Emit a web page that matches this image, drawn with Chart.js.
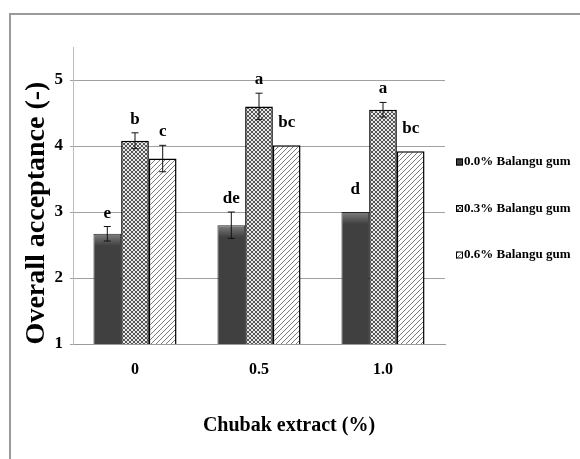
<!DOCTYPE html>
<html>
<head>
<meta charset="utf-8">
<script src="https://cdn.jsdelivr.net/npm/chart.js@4"></script>
<style>
html, body { margin: 0; padding: 0; background: #fff; }
#frame { position: absolute; left: 9px; top: 13px; width: 620px; height: 500px;
  border-top: 2px solid #9a9a9a; border-left: 2px solid #9a9a9a; }
#wrap { position: absolute; left: 0; top: 0; width: 580px; height: 459px; }
</style>
</head>
<body>
<div id="frame"></div>
<div id="wrap"><canvas id="myChart"></canvas></div>
<script>
// data
const categories = ["0", "0.5", "1.0"];
const seriesNames = ["0.0% Balangu gum", "0.3% Balangu gum", "0.6% Balangu gum"];
const gum00 = [2.67, 2.80, 3.00];
const gum03 = [4.08, 4.60, 4.55];
const gum06 = [3.81, 4.01, 3.92];
const gum00Err = [0.11, 0.20, 0];
const gum03Err = [0.12, 0.20, 0.11];
const gum06Err = [0.20, 0, 0];
const gum00Letters = ["e", "de", "d"];
const gum03Letters = ["b", "a", "a"];
const gum06Letters = ["c", "bc", "bc"];
const yTicks = [1, 2, 3, 4, 5];

const errs = [gum00Err, gum03Err, gum06Err];
const letters = [gum00Letters, gum03Letters, gum06Letters];
const serif = "'Liberation Serif', 'Times New Roman', serif";
const nb = "\u00a0";

function makePattern(size, draw) {
    const cv = document.createElement('canvas');
    cv.width = size; cv.height = size;
    const g = cv.getContext('2d');
    g.fillStyle = '#fff';
    g.fillRect(0, 0, size, size);
    draw(g);
    return document.getElementById('myChart').getContext('2d').createPattern(cv, 'repeat');
}

// fine cross hatch (0.3%)
const crossFill = makePattern(4, g => {
    g.fillStyle = '#e8e8e8';
    g.fillRect(0, 0, 4, 4);
    g.fillStyle = '#555';
    [[0,0],[1,1],[2,2],[3,3],[3,0],[2,1],[1,2],[0,3]].forEach(p => g.fillRect(p[0], p[1], 1, 1));
});
// diagonal hatch (0.6%)
const diagFill = makePattern(5, g => {
    g.strokeStyle = '#7a7a7a';
    g.lineWidth = 1;
    g.beginPath();
    g.moveTo(0, 5); g.lineTo(5, 0);
    g.moveTo(-2.5, 2.5); g.lineTo(2.5, -2.5);
    g.moveTo(2.5, 7.5); g.lineTo(7.5, 2.5);
    g.stroke();
});

function darkFill(ctx) {
    const chart = ctx.chart;
    if (!chart.chartArea || ctx.raw == null) return '#404040';
    const top = chart.scales.y.getPixelForValue(ctx.raw);
    const gr = chart.ctx.createLinearGradient(0, top, 0, top + 12);
    gr.addColorStop(0, '#808080');
    gr.addColorStop(1, '#404040');
    return gr;
}

const swatches = ['#404040', crossFill, diagFill];

const barMarks = {
    id: 'barMarks',
    afterDatasetsDraw(chart) {
        const c = chart.ctx, y = chart.scales.y;
        c.save();
        chart.data.datasets.forEach((ds, i) => {
            chart.getDatasetMeta(i).data.forEach((bar, j) => {
                const v = ds.data[j], e = errs[i][j];
                const top = y.getPixelForValue(v + e);
                if (e > 0) {
                    const bot = y.getPixelForValue(v - e);
                    c.strokeStyle = '#111';
                    c.lineWidth = 1;
                    c.beginPath();
                    c.moveTo(bar.x, top); c.lineTo(bar.x, bot);
                    c.moveTo(bar.x - 3.5, top); c.lineTo(bar.x + 3.5, top);
                    c.moveTo(bar.x - 3.5, bot); c.lineTo(bar.x + 3.5, bot);
                    c.stroke();
                }
                c.fillStyle = '#000';
                c.font = 'bold 17px ' + serif;
                c.textAlign = 'center';
                c.textBaseline = 'alphabetic';
                c.fillText(letters[i][j], bar.x, top - (e > 0 ? 9 : 18));
            });
        });
        c.restore();
    },
    afterDraw(chart) {
        // legend at the right
        const c = chart.ctx, a = chart.chartArea;
        c.save();
        c.font = 'bold 13px ' + serif;
        c.textAlign = 'left';
        c.textBaseline = 'middle';
        seriesNames.forEach((name, i) => {
            const cy = a.top + 115 + i * 46.5;
            const bx = a.right + 11;
            c.fillStyle = swatches[i];
            c.fillRect(bx, cy - 3.5, 7, 7);
            c.strokeStyle = '#000';
            c.lineWidth = 1;
            c.strokeRect(bx + 0.5, cy - 3, 6, 6);
            c.fillStyle = '#000';
            c.fillText(name, bx + 8, cy);
        });
        c.restore();
    }
};

new Chart("myChart", {
    type: "bar",
    data: {
        labels: categories,
        datasets: [
            { label: seriesNames[0], data: gum00, backgroundColor: darkFill, borderColor: '#262626', borderWidth: 1 },
            { label: seriesNames[1], data: gum03, backgroundColor: crossFill, borderColor: '#000', borderWidth: 1.5 },
            { label: seriesNames[2], data: gum06, backgroundColor: diagFill, borderColor: '#000', borderWidth: 1.5 }
        ]
    },
    options: {
        responsive: true,
        maintainAspectRatio: false,
        animation: false,
        datasets: { bar: { categoryPercentage: 0.67, barPercentage: 1.0 } },
        layout: { padding: { left: 0, top: 47, right: 135, bottom: 0 } },
        plugins: {
            legend: { display: false },
            tooltip: { enabled: false }
        },
        scales: {
            x: {
                grid: { display: false, drawTicks: false },
                border: { color: '#9a9a9a', width: 1 },
                ticks: { color: '#000', padding: 16, font: { family: serif, size: 16, weight: 'bold' } },
                title: {
                    display: true,
                    text: nb.repeat(12) + 'Chubak extract (%)',
                    color: '#000',
                    font: { family: serif, size: 20, weight: 'bold' },
                    padding: { top: 0, bottom: 21 }
                },
                afterFit: s => { s.height = 115; }
            },
            y: {
                min: 1,
                max: 5.5,
                afterBuildTicks: s => { s.ticks = yTicks.map(v => ({ value: v })); },
                grid: { color: '#a0a0a0', tickLength: 3 },
                border: { color: '#bdbdbd', width: 1 },
                ticks: { color: '#000', padding: 7, font: { family: serif, size: 17, weight: 'bold' } },
                title: {
                    display: true,
                    text: 'Overall acceptance (-)' + nb.repeat(5),
                    color: '#000',
                    font: { family: serif, size: 28, weight: 'bold' },
                    padding: { top: 20, bottom: 0 }
                },
                afterFit: s => { s.width = 73; }
            }
        }
    },
    plugins: [barMarks]
});
</script>
</body>
</html>
